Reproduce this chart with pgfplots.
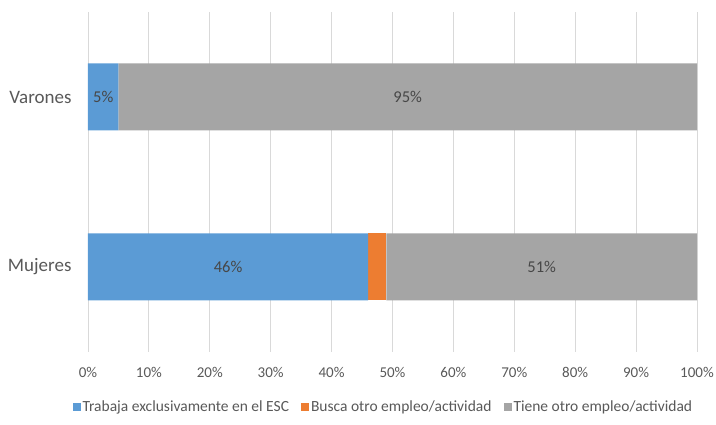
\documentclass[border=0pt]{standalone}
\usepackage{pgfplots}
\pgfplotsset{compat=1.18}
\usepackage{fontspec}
\setmainfont{Carlito}
\definecolor{cblue}{HTML}{5B9BD5}
\definecolor{corange}{HTML}{ED7D31}
\definecolor{cgray}{HTML}{A5A5A5}
\definecolor{tickc}{HTML}{595959}
\definecolor{gridc}{HTML}{D9D9D9}
\begin{document}
\begin{tikzpicture}
\path[use as bounding box] (-88pt,-73pt) rectangle (628pt,352pt);
\begin{axis}[
  at={(0pt,0pt)}, anchor=south west,
  scale only axis, width=609pt, height=340pt,
  xbar stacked, bar width=67pt,
  xmin=0, xmax=100, ymin=-0.5, ymax=1.5,
  xtick={0,10,...,100},
  xticklabels={0\%,10\%,20\%,30\%,40\%,50\%,60\%,70\%,80\%,90\%,100\%},
  ytick={0,1}, yticklabels={Mujeres,Varones},
  xmajorgrids, major grid style={gridc, line width=0.8pt},
  axis line style={draw=none},
  major tick length=0pt,
  x tick label style={font=\fontsize{15}{18}\selectfont, text=tickc, yshift=-12pt},
  y tick label style={font=\fontsize{19}{22}\selectfont, text=tickc, xshift=-13pt},
  /pgf/number format/assume math mode=true,
  legend columns=3,
  legend style={at={(0.485,0)}, anchor=center, yshift=-55pt, draw=none,
    font=\fontsize{15.5}{18}\selectfont, text=tickc,
    /tikz/every even column/.append style={column sep=10pt}},
  legend image code/.code={\fill[#1] (0pt,-4pt) rectangle (8pt,4pt);},
]
\addplot[fill=cblue, draw=none] coordinates {(46,0) (5,1)};
\addlegendentry{Trabaja exclusivamente en el ESC}
\addplot[fill=corange, draw=none] coordinates {(3,0) (0,1)};
\addlegendentry{Busca otro empleo/actividad}
\addplot[fill=cgray, draw=none] coordinates {(51,0) (95,1)};
\addlegendentry{Tiene otro empleo/actividad}
\end{axis}
\begin{axis}[
  at={(0pt,0pt)}, anchor=south west,
  scale only axis, width=609pt, height=340pt,
  xmin=0, xmax=100, ymin=-0.5, ymax=1.5,
  hide axis,
  nodes near coords, point meta=explicit symbolic,
  every node near coord/.append style={anchor=center, font=\fontsize{16.5}{19}\selectfont, text=tickc!80!black},
]
\addplot[only marks, mark=none] coordinates {(2.5,1) [5\%] (52.5,1) [95\%] (23,0) [46\%] (74.5,0) [51\%]};
\end{axis}
\end{tikzpicture}
\end{document}
